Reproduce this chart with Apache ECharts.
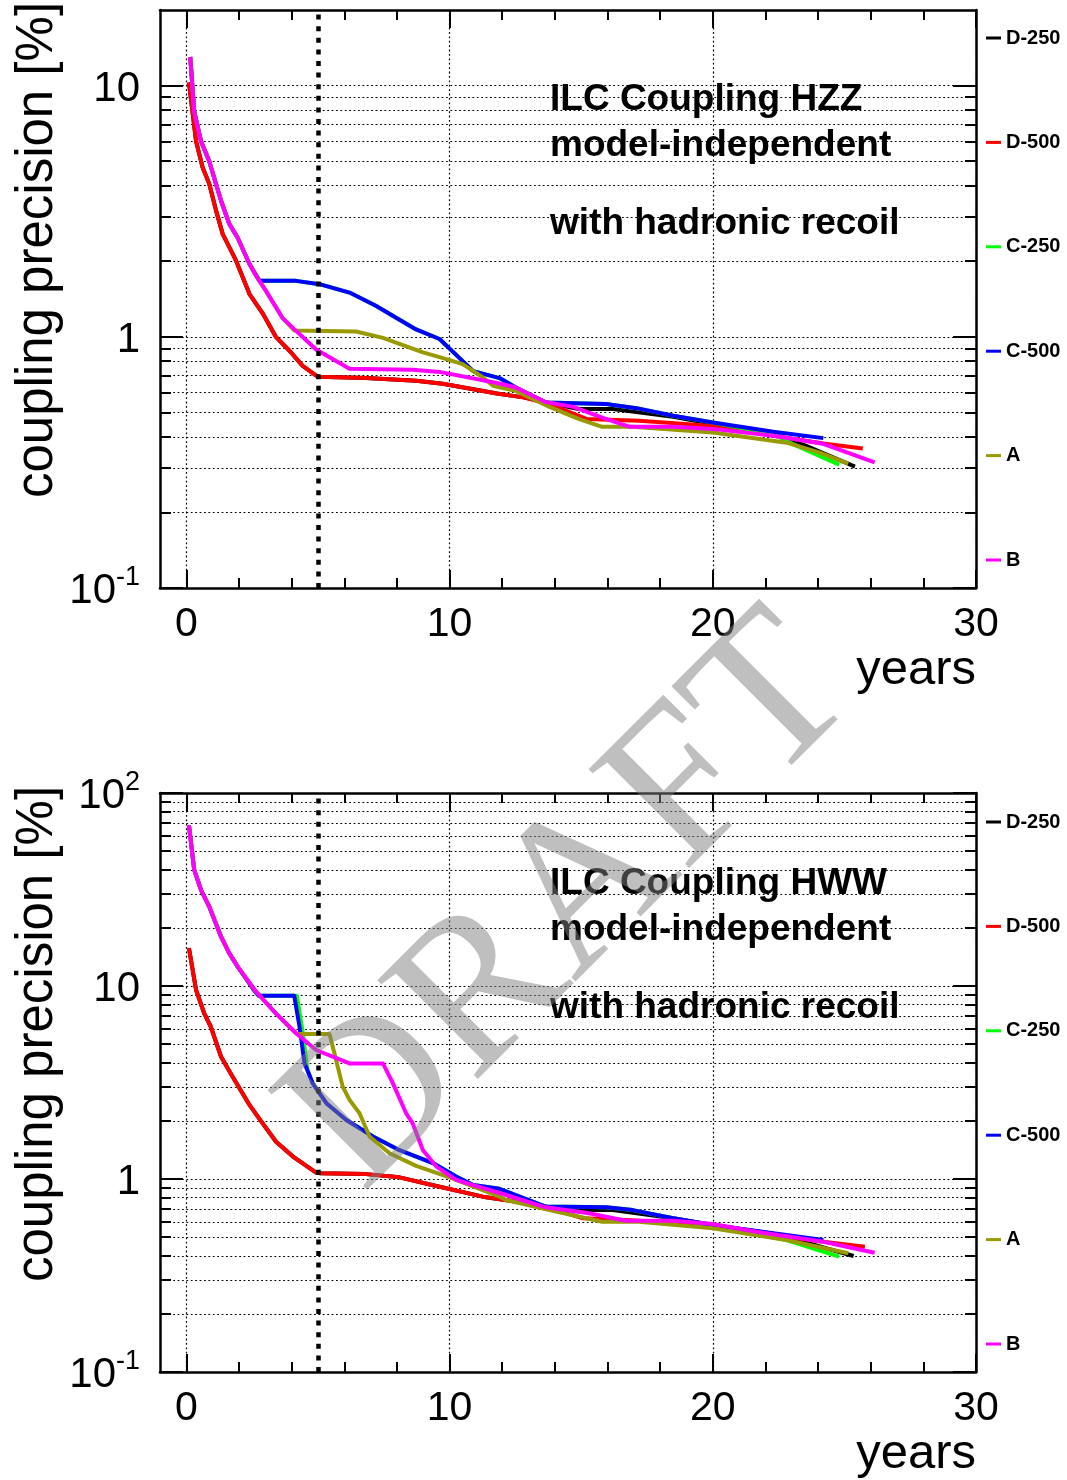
<!DOCTYPE html>
<html>
<head>
<meta charset="utf-8">
<script src="https://cdn.jsdelivr.net/npm/echarts@6/dist/echarts.min.js"></script>
<style>
  html, body { margin: 0; padding: 0; background: #fff; }
  #chart { width: 1067px; height: 1480px; }
</style>
</head>
<body>
<div id="chart"></div>
<script>
// Run scenarios, drawn in this order (later ones on top)
const scenarios = ['D-250', 'D-500', 'C-250', 'C-500', 'A', 'B'];

// Axis tick values
const xMajorTicks = [0, 10, 20, 30];
const xMinorTicks = [2, 4, 6, 8, 12, 14, 16, 18, 22, 24, 26, 28];
const hzzMajorTicks = [0.1, 1, 10];
const hzzMinorTicks = [0.2, 0.3, 0.4, 0.5, 0.6, 0.7, 0.8, 0.9, 2, 3, 4, 5, 6, 7, 8, 9];
const hwwMajorTicks = [0.1, 1, 10, 100];
const hwwMinorTicks = [0.2, 0.3, 0.4, 0.5, 0.6, 0.7, 0.8, 0.9, 2, 3, 4, 5, 6, 7, 8, 9,
  20, 30, 40, 50, 60, 70, 80, 90];
const stageBoundary = [5];

// HZZ coupling precision [%] vs. years
const hzzD250 = [[0.1,10.3],[0.37,6.0],[0.62,4.72],[0.87,4.07],[1.13,3.18],[1.38,2.57],[1.89,2.01],[2.4,1.48],[2.9,1.24],[3.4,1.0],[3.92,0.88],[4.42,0.766],[5.0,0.693],[6.83,0.685],[8.73,0.668],[9.74,0.65],[11.8,0.595],[12.8,0.574],[13.8,0.545],[14.9,0.516],[16.2,0.516],[18.5,0.48],[20,0.45],[22.3,0.41],[23.5,0.37],[25.4,0.304]];
const hzzD500 = [[0.1,10.3],[0.37,6.0],[0.62,4.72],[0.87,4.07],[1.13,3.18],[1.38,2.57],[1.89,2.01],[2.4,1.48],[2.9,1.24],[3.4,1.0],[3.92,0.88],[4.42,0.766],[5.0,0.693],[6.83,0.685],[8.73,0.668],[9.74,0.65],[11.8,0.595],[12.8,0.574],[13.8,0.54],[15.2,0.471],[17.2,0.463],[20,0.442],[22.3,0.404],[24.2,0.376],[25.7,0.359]];
const hzzC250 = [[0.15,13.0],[0.3,7.9],[0.56,6.0],[0.87,5.0],[1.32,3.48],[1.63,2.82],[1.95,2.48],[2.4,1.95],[2.78,1.67],[4.17,1.67],[5.06,1.62],[6.2,1.50],[7.2,1.33],[7.97,1.19],[8.73,1.07],[9.62,0.98],[10.5,0.80],[10.9,0.73],[11.9,0.685],[12.5,0.63],[13.65,0.548],[15.95,0.54],[17.1,0.52],[18.5,0.485],[20,0.456],[22.3,0.41],[22.9,0.38],[24.8,0.31]];
const hzzC500 = [[0.15,13.0],[0.3,7.9],[0.56,6.0],[0.87,5.0],[1.32,3.48],[1.63,2.82],[1.95,2.48],[2.4,1.95],[2.78,1.67],[4.17,1.67],[5.06,1.62],[6.2,1.50],[7.2,1.33],[7.97,1.19],[8.73,1.07],[9.62,0.98],[10.5,0.80],[10.9,0.73],[11.9,0.685],[12.5,0.63],[13.65,0.548],[15.95,0.54],[17.1,0.52],[18.5,0.485],[20,0.456],[22.3,0.419],[24.2,0.395]];
const hzzA = [[0.15,13.0],[0.3,7.9],[0.56,6.0],[0.87,5.0],[1.32,3.48],[1.63,2.82],[1.95,2.48],[2.4,1.95],[2.65,1.75],[3.03,1.52],[3.65,1.19],[4.1,1.06],[6.45,1.05],[7.47,0.99],[8.99,0.867],[9.62,0.83],[10.5,0.778],[11.26,0.69],[11.65,0.638],[12.5,0.61],[13.8,0.526],[14.9,0.471],[15.8,0.438],[16.96,0.438],[20,0.416],[22.8,0.379],[24.07,0.346],[25.15,0.313]];
const hzzB = [[0.15,13.0],[0.3,7.9],[0.56,6.0],[0.87,5.0],[1.32,3.48],[1.63,2.82],[1.95,2.48],[2.4,1.95],[2.65,1.75],[3.03,1.52],[3.65,1.19],[4.03,1.09],[4.93,0.89],[6.2,0.746],[8.6,0.74],[9.62,0.725],[11.8,0.655],[12.5,0.63],[13.65,0.55],[14.7,0.526],[15.8,0.477],[16.85,0.438],[18.5,0.438],[20,0.43],[22.3,0.404],[24.2,0.375],[26.15,0.316]];

// HWW coupling precision [%] vs. years
const hwwD250 = [[0.1,15.7],[0.37,9.53],[0.68,7.22],[0.93,6.15],[1.32,4.3],[1.76,3.39],[2.4,2.42],[2.9,1.94],[3.41,1.56],[4.04,1.31],[4.93,1.08],[5.1,1.07],[6.83,1.06],[8.1,1.02],[9.5,0.92],[11.26,0.81],[11.65,0.794],[13.4,0.733],[14.3,0.69],[16.2,0.69],[18.5,0.626],[20,0.578],[22.3,0.52],[23.5,0.47],[25.35,0.399]];
const hwwD500 = [[0.1,15.7],[0.37,9.53],[0.68,7.22],[0.93,6.15],[1.32,4.3],[1.76,3.39],[2.4,2.42],[2.9,1.94],[3.41,1.56],[4.04,1.31],[4.93,1.08],[5.1,1.07],[6.83,1.06],[8.1,1.02],[9.5,0.92],[11.26,0.81],[11.65,0.794],[13.4,0.733],[15.07,0.626],[16.7,0.614],[20,0.578],[22.3,0.513],[24.2,0.473],[25.78,0.446]];
const hwwC250 = [[0.1,68],[0.3,40],[0.56,31.4],[0.87,25.8],[1.32,18.0],[1.63,14.8],[1.95,12.6],[2.55,9.6],[2.75,8.9],[4.2,8.9],[4.4,6.0],[4.6,3.7],[4.8,3.13],[5.32,2.47],[6.08,2.02],[7.09,1.66],[8.1,1.41],[9.37,1.21],[10.25,1.03],[10.9,0.93],[11.9,0.89],[13.65,0.72],[15.95,0.713],[16.96,0.69],[18.5,0.626],[20,0.57],[22.8,0.483],[24.8,0.396]];
const hwwC500 = [[0.1,68],[0.3,40],[0.56,31.4],[0.87,25.8],[1.32,18.0],[1.63,14.8],[1.95,12.6],[2.55,9.6],[2.75,8.9],[4.1,8.9],[4.3,6.15],[4.49,3.98],[4.8,3.13],[5.32,2.47],[6.08,2.02],[7.09,1.66],[8.1,1.41],[9.37,1.21],[10.25,1.03],[10.9,0.93],[11.9,0.89],[13.65,0.72],[15.95,0.713],[16.96,0.69],[18.5,0.626],[20,0.578],[22.3,0.524],[24.2,0.483]];
const hwwA = [[0.1,68],[0.3,40],[0.56,31.4],[0.87,25.8],[1.32,18.0],[1.63,14.8],[1.95,12.6],[2.65,9.34],[3.4,7.22],[4.2,5.64],[5.44,5.64],[5.69,4.14],[5.94,3.01],[6.2,2.57],[6.58,2.19],[6.96,1.66],[7.72,1.36],[8.73,1.17],[10,1.02],[11.9,0.81],[12.15,0.778],[13.8,0.69],[15.8,0.601],[17.2,0.601],[20,0.556],[22.8,0.483],[25.15,0.412]];
const hwwB = [[0.1,68],[0.3,40],[0.56,31.4],[0.87,25.8],[1.32,18.0],[1.63,14.8],[1.95,12.6],[2.65,9.34],[3.4,7.22],[4.17,5.69],[4.93,4.66],[6.2,3.97],[7.47,3.97],[7.85,3.13],[8.35,2.19],[8.6,1.94],[8.99,1.41],[9.5,1.16],[10.25,0.99],[10.9,0.93],[12.15,0.826],[13.65,0.713],[15.3,0.664],[16.7,0.608],[18.5,0.608],[20,0.585],[21.65,0.533],[24.2,0.473],[26.15,0.415]];

const hzzSeries = [hzzD250, hzzD500, hzzC250, hzzC500, hzzA, hzzB];
const hwwSeries = [hwwD250, hwwD500, hwwC250, hwwC500, hwwA, hwwB];

const scenarioColors = ['#000000', '#ff0000', '#00ff00', '#0000ff', '#999900', '#ff00ff'];
const FONT = '"Liberation Sans", Arial, Helvetica, sans-serif';

const dotted = { color: '#000', width: 1.2, type: [1.8, 2.6] };

function powerLabel(v) {
  const e = Math.round(Math.log10(v));
  if (e === 0) return '{b|1}';
  if (e === 1) return '{b|10}';
  return '{b|10}{s|' + e + '}';
}

function xAxesFor(g) {
  const base = { gridIndex: g, type: 'value', min: -1, max: 30, splitLine: { show: false } };
  const line = { show: true, onZero: false, lineStyle: { color: '#000', width: 2.5 } };
  return [
    Object.assign({}, base, {
      position: 'bottom',
      axisLine: line,
      axisTick: { show: true, inside: true, length: 18, lineStyle: { color: '#000', width: 2 }, customValues: xMajorTicks },
      axisLabel: { show: true, customValues: xMajorTicks, fontSize: 41, fontFamily: FONT, color: '#000', margin: 16 },
      splitLine: { show: true, lineStyle: dotted }
    }),
    Object.assign({}, base, {
      position: 'bottom',
      axisLine: { show: false, onZero: false },
      axisTick: { show: true, inside: true, length: 10, lineStyle: { color: '#000', width: 2 }, customValues: xMinorTicks },
      axisLabel: { show: false }
    }),
    Object.assign({}, base, {
      position: 'top',
      axisLine: line,
      axisTick: { show: true, inside: true, length: 18, lineStyle: { color: '#000', width: 2 }, customValues: xMajorTicks },
      axisLabel: { show: false }
    }),
    Object.assign({}, base, {
      position: 'top',
      axisLine: { show: false, onZero: false },
      axisTick: { show: true, inside: true, length: 10, lineStyle: { color: '#000', width: 2 }, customValues: xMinorTicks },
      axisLabel: { show: false }
    })
  ];
}

function yAxesFor(g, max, major, minor) {
  const base = { gridIndex: g, type: 'log', logBase: 10, min: 0.1, max: max, splitLine: { show: false } };
  const line = { show: true, onZero: false, lineStyle: { color: '#000', width: 2.5 } };
  return [
    Object.assign({}, base, {
      position: 'left',
      axisLine: line,
      axisTick: { show: true, inside: true, length: 23, lineStyle: { color: '#000', width: 2 }, customValues: major },
      axisLabel: {
        show: true, customValues: major, margin: 20, formatter: powerLabel,
        rich: {
          b: { fontSize: 42, fontFamily: FONT, color: '#000', lineHeight: 48, padding: [7, 0, 0, 0] },
          s: { fontSize: 27, fontFamily: FONT, color: '#000', lineHeight: 28, verticalAlign: 'top' }
        }
      },
      splitLine: { show: true, lineStyle: dotted }
    }),
    Object.assign({}, base, {
      position: 'left',
      axisLine: { show: false, onZero: false },
      axisTick: { show: true, inside: true, length: 11, lineStyle: { color: '#000', width: 2 }, customValues: minor },
      axisLabel: { show: false },
      splitLine: { show: true, lineStyle: dotted }
    }),
    Object.assign({}, base, {
      position: 'right',
      axisLine: line,
      axisTick: { show: true, inside: true, length: 23, lineStyle: { color: '#000', width: 2 }, customValues: major },
      axisLabel: { show: false }
    }),
    Object.assign({}, base, {
      position: 'right',
      axisLine: { show: false, onZero: false },
      axisTick: { show: true, inside: true, length: 11, lineStyle: { color: '#000', width: 2 }, customValues: minor },
      axisLabel: { show: false }
    })
  ];
}

function seriesFor(dataSets, xi, yi) {
  return dataSets.map((data, i) => {
    const s = {
      type: 'line',
      name: scenarios[i],
      data: data,
      xAxisIndex: xi,
      yAxisIndex: yi,
      symbol: 'none',
      showSymbol: false,
      lineStyle: { color: scenarioColors[i], width: 4, join: 'round' },
      itemStyle: { color: scenarioColors[i] },
      color: scenarioColors[i],
      animation: false,
      silent: true
    };
    if (i === dataSets.length - 1) {
      s.markLine = {
        silent: true,
        symbol: 'none',
        label: { show: false },
        animation: false,
        lineStyle: { color: '#000', width: 4.5, type: [5, 6.6] },
        data: stageBoundary.map(v => ({ xAxis: v }))
      };
    }
    return s;
  });
}

function legendFor(top) {
  return {
    data: scenarios,
    orient: 'vertical',
    left: 986,
    top: top,
    padding: 0,
    itemGap: 84.4,
    itemWidth: 15,
    itemHeight: 3,
    icon: 'rect',
    selectedMode: false,
    textStyle: { fontSize: 20, fontWeight: 'bold', fontFamily: FONT, color: '#000', lineHeight: 20 }
  };
}

function panelText(dy, title) {
  const t = (text, x, y) => ({
    type: 'text', x: x, y: y, z: 50,
    style: { text: text, fill: '#000', font: 'bold 37px ' + FONT, align: 'left', verticalAlign: 'middle' }
  });
  return [
    t(title, 550, 100 + dy),
    t('model-independent', 550, 146 + dy),
    t('with hadronic recoil', 550, 224 + dy),
    { type: 'text', x: 976, y: 670 + dy, z: 50,
      style: { text: 'years', fill: '#000', font: '49px ' + FONT, align: 'right', verticalAlign: 'middle' } },
    { type: 'text', x: 38, y: 250 + dy, rotation: Math.PI / 2, z: 50,
      style: { text: 'coupling precision [%]', fill: '#000', font: '51px ' + FONT, align: 'center', verticalAlign: 'middle' } }
  ];
}

const chart = echarts.init(document.getElementById('chart'), null, { renderer: 'canvas' });
chart.setOption({
  animation: false,
  backgroundColor: '#fff',
  grid: [
    { left: 160, right: 91, top: 10, height: 578 },
    { left: 160, right: 91, top: 793, height: 579 }
  ],
  xAxis: xAxesFor(0).concat(xAxesFor(1)),
  yAxis: yAxesFor(0, 20, hzzMajorTicks, hzzMinorTicks).concat(yAxesFor(1, 100, hwwMajorTicks, hwwMinorTicks)),
  legend: [legendFor(28), legendFor(812)],
  series: seriesFor(hzzSeries, 0, 0).concat(seriesFor(hwwSeries, 4, 4)),
  graphic: panelText(0, 'ILC Coupling HZZ')
    .concat(panelText(784, 'ILC Coupling HWW'))
    .concat([{
      type: 'text', x: 572, y: 905, rotation: Math.PI / 4, z: 100, silent: true,
      style: { text: 'DRAFT', fill: 'rgba(128,128,128,0.5)', font: '215px "Liberation Serif", "Times New Roman", serif', align: 'center', verticalAlign: 'middle' }
    }])
});
</script>
</body>
</html>
